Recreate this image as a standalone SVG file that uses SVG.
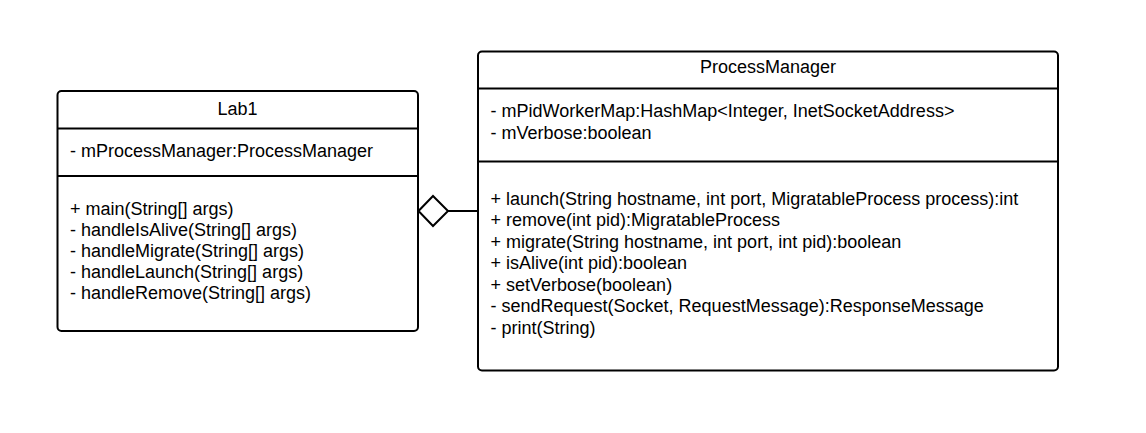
<svg xmlns="http://www.w3.org/2000/svg" width="1146" height="433" viewBox="0 0 1146 433">
<style>
.box{fill:#fff;stroke:#000;stroke-width:2}
.sep{stroke:#000;stroke-width:2}
text{font-family:"Liberation Sans",Arial,sans-serif;font-size:18px;fill:#000}
.title{text-anchor:middle}
.conn{fill:none;stroke:#000;stroke-width:2}
.diamond{fill:#fff;stroke:#000;stroke-width:2}
</style>
<rect width="1146" height="433" fill="#fff"/>
<g id="connectors">
<line class="conn" x1="448" y1="211" x2="478" y2="211"/>
<polygon class="diamond" points="418.5,211 433,196 448,211 433,226"/>
</g>
<g id="Lab1">
<rect class="box" x="57.5" y="91" width="360.5" height="240" rx="4"/>
<line class="sep" x1="57.5" y1="128.5" x2="418" y2="128.5"/>
<line class="sep" x1="57.5" y1="176" x2="418" y2="176"/>
<text class="title" x="237.5" y="115">Lab1</text>
<text x="70" y="157">- mProcessManager:ProcessManager</text>
<text x="70" y="215">+ main(String[] args)</text>
<text x="70" y="236">- handleIsAlive(String[] args)</text>
<text x="70" y="257">- handleMigrate(String[] args)</text>
<text x="70" y="278">- handleLaunch(String[] args)</text>
<text x="70" y="299">- handleRemove(String[] args)</text>
</g>
<g id="ProcessManager">
<rect class="box" x="478" y="51.5" width="580" height="319" rx="4"/>
<line class="sep" x1="478" y1="88.5" x2="1058" y2="88.5"/>
<line class="sep" x1="478" y1="161.5" x2="1058" y2="161.5"/>
<text class="title" x="768" y="72.5">ProcessManager</text>
<text x="490.5" y="117">- mPidWorkerMap:HashMap&lt;Integer, InetSocketAddress&gt;</text>
<text x="490.5" y="138.5">- mVerbose:boolean</text>
<text x="490.5" y="204.5">+ launch(String hostname, int port, MigratableProcess process):int</text>
<text x="490.5" y="226">+ remove(int pid):MigratableProcess</text>
<text x="490.5" y="247.5">+ migrate(String hostname, int port, int pid):boolean</text>
<text x="490.5" y="269">+ isAlive(int pid):boolean</text>
<text x="490.5" y="290.5">+ setVerbose(boolean)</text>
<text x="490.5" y="312">- sendRequest(Socket, RequestMessage):ResponseMessage</text>
<text x="490.5" y="333.5">- print(String)</text>
</g>
</svg>
